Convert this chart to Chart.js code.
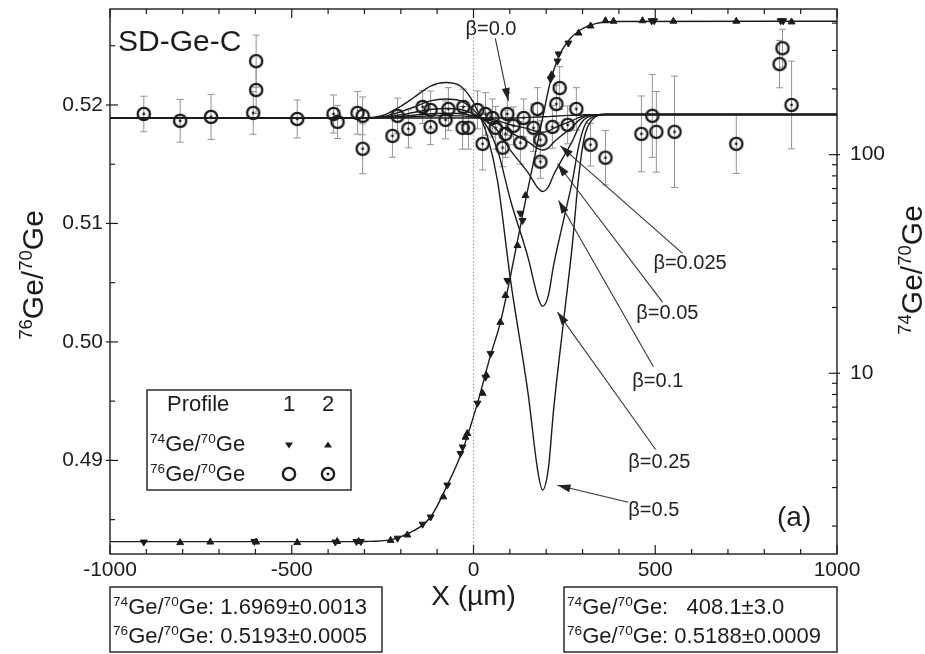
<!DOCTYPE html>
<html><head><meta charset="utf-8">
<script src="https://cdn.jsdelivr.net/npm/chart.js@4.4.0/dist/chart.umd.min.js"></script>
<style>html,body{margin:0;padding:0;background:#fff;}</style>
</head><body>
<canvas id="c" width="925" height="654" style="width:925px;height:654px;display:block"></canvas>
<script>
// ---------------- DATA ----------------
// model curves for 76Ge/70Ge (left axis), x in micrometres
const modelX = [-1000,-300,-250,-200,-165,-118,-77,-36,-8,11,38,66,102,151,176,190,206,220,248,272,289,305,327,363,1000];
const beta0   = [.5189,.5189,.5189,.5189,.5189,.5189,.5189,.5189,.5189,.5189,.5189,.5189,.5189,.51895,.51898,.5190,.51902,.51905,.5191,.51913,.51915,.51917,.51918,.5192,.5192];
const beta0025= [.5189,.5189,.51891,.51897,.51901,.51908,.5191,.51908,.51901,.51894,.51884,.51868,.51833,.51798,.51775,.5177,.51779,.51802,.51839,.51868,.51893,.51909,.51916,.5192,.5192];
const beta005 = [.5189,.5189,.51893,.51903,.51913,.51926,.5193,.51926,.51913,.51898,.51877,.51843,.51768,.51686,.51634,.5162,.51638,.51684,.51756,.51816,.51868,.519,.51914,.5192,.5192];
const beta01  = [.5189,.5189,.51896,.51916,.51936,.51962,.5197,.51962,.51936,.51906,.5186,.51784,.51616,.51425,.51304,.5127,.51308,.51407,.51564,.51695,.51809,.51879,.5191,.5192,.5192];
const beta025 = [.5189,.5189,.51901,.51943,.51981,.52034,.5205,.52034,.51981,.51922,.51813,.51621,.51194,.50701,.50389,.5030,.50393,.50641,.51032,.51359,.51646,.51821,.51897,.5192,.5192];
const beta05  = [.5189,.5189,.51911,.51989,.52061,.5216,.5219,.5216,.52061,.5195,.51739,.51361,.5052,.49545,.48928,.4875,.48932,.49416,.50181,.50823,.51386,.51728,.51877,.5192,.5192];

// model curve for 74Ge/70Ge (right axis, log)
const ge74X = [-1000,-350,-300,-228,-182,-118,-72,-30,11,47,74,102,143,184,212,234,261,294,336,391,1000];
const ge74Y = [1.697,1.697,1.70,1.73,1.84,2.2,3.08,4.45,7.3,12.1,17.1,28,61.7,131,218,280,332,372,398,407,408.1];

// 74Ge/70Ge measurements: profile 1 (down triangles), profile 2 (up triangles)
const t1X = [-907,-603,-380,-322,-310,-209,-140,-118,-72,-36,-30,11,33,47,93,129,135,212,231,234,261,490,497,845,852];
const t1Y = [1.69,1.70,1.69,1.70,1.70,1.76,2.04,2.2,3.08,4.3,4.6,7.3,9.6,12.3,26.6,54,50,222,268,289,324,410,410,410,410];
const t2X = [-807,-724,-598,-485,-375,-316,-228,-182,-83,-22,-17,25,35,74,88,121,143,215,289,322,363,385,465,550,723,875];
const t2Y = [1.68,1.69,1.69,1.68,1.70,1.70,1.72,1.82,2.72,5.1,5.3,8.1,9.8,17.1,22.7,38.4,65,232,360,388,410,408,410,408,408,405];

// 76Ge/70Ge measurements with errors: profile 1 (open circles), profile 2 (dotted circles)
const c1X = [-598,-598,-374,-319,-305,-118,-30,11,176,237,492,503,850,842];
const c1Y = [.5237,.52126,.51857,.51933,.51908,.51958,.51807,.51958,.51966,.52143,.51908,.51773,.52479,.52345];
const c1E = [.0022,.0020,.0014,.0018,.0016,.0016,.0018,.0016,.0018,.0018,.0035,.0034,.0016,.0020];
const c2X = [-907,-807,-722,-606,-485,-385,-305,-223,-209,-179,-140,-118,-77,-69,-28,-14,25,33,52,61,80,88,93,110,129,138,165,184,184,217,228,259,283,322,363,462,553,723,875];
const c2Y = [.51924,.51866,.51899,.51933,.51882,.51924,.5163,.51739,.51908,.51798,.51983,.51815,.51874,.51966,.51983,.51807,.51672,.51924,.5189,.51807,.51639,.51756,.51924,.51824,.51681,.5189,.51807,.51706,.51521,.51815,.52008,.51832,.51966,.51664,.51555,.51756,.51773,.51672,.52];
const c2E = [.0015,.0018,.0019,.0018,.0016,.0016,.0021,.0018,.0015,.0016,.0014,.0015,.0016,.0018,.0015,.0018,.0022,.0018,.0016,.0018,.0016,.0020,.0018,.0016,.0018,.0016,.0020,.0016,.0014,.0018,.0016,.0016,.0018,.0018,.0023,.0032,.0047,.0025,.0037];

// ticks
const xMajor = [-1000,-500,0,500,1000];
const xMinor = [-900,-800,-700,-600,-400,-300,-200,-100,100,200,300,400,600,700,800,900];
const yLMajor = [0.49,0.50,0.51,0.52];
const yLMinor = [0.485,0.495,0.505,0.515,0.525];
const yRMajor = [10,100];
const yRMinor = [2,3,4,5,6,7,8,9,20,30,40,50,60,70,80,90,200,300,400];

// ---------------- STYLE ----------------
const FONT = '"Liberation Sans", Arial, Helvetica, sans-serif';
const INK = '#1c1c1c';
const iso74 = [{t:'74',s:1},{t:'Ge/'},{t:'70',s:1},{t:'Ge'}];
const iso76 = [{t:'76',s:1},{t:'Ge/'},{t:'70',s:1},{t:'Ge'}];

function ringImg(dot){
  const c=document.createElement('canvas'); c.width=c.height=20;
  const g=c.getContext('2d'); g.strokeStyle=INK; g.lineWidth=2.4;
  g.beginPath(); g.arc(10,10,6.1,0,Math.PI*2); g.stroke();
  if(dot){ g.fillStyle=INK; g.beginPath(); g.arc(10,10,1.4,0,Math.PI*2); g.fill(); }
  return c;
}
const ringOpen = ringImg(false), ringDot = ringImg(true);

function richWidth(ctx, segs, size){
  let w=0; segs.forEach(s=>{ ctx.font=(s.s?size*0.62:size)+'px '+FONT; w+=ctx.measureText(s.t).width; }); return w;
}
function drawRich(ctx, segs, x, y, size, align){
  const w=richWidth(ctx,segs,size);
  let cx = align==='center'? x-w/2 : (align==='right'? x-w : x);
  ctx.textAlign='left'; ctx.textBaseline='alphabetic';
  segs.forEach(s=>{ const fs=s.s?size*0.62:size; ctx.font=fs+'px '+FONT;
    ctx.fillText(s.t, cx, s.s? y-size*0.36 : y); cx+=ctx.measureText(s.t).width; });
  return cx;
}
function seg(ctx,x1,y1,x2,y2){ ctx.beginPath(); ctx.moveTo(x1,y1); ctx.lineTo(x2,y2); ctx.stroke(); }
function arrow(ctx,x1,y1,x2,y2){
  seg(ctx,x1,y1,x2,y2);
  const a=Math.atan2(y2-y1,x2-x1), L=13, W=4;
  ctx.beginPath(); ctx.moveTo(x2,y2);
  ctx.lineTo(x2-L*Math.cos(a)+W*Math.sin(a), y2-L*Math.sin(a)-W*Math.cos(a));
  ctx.lineTo(x2-L*Math.cos(a)-W*Math.sin(a), y2-L*Math.sin(a)+W*Math.cos(a));
  ctx.closePath(); ctx.fill();
}
function tri(ctx,x,y,r,down){
  ctx.beginPath();
  if(down){ ctx.moveTo(x-r,y-r*0.6); ctx.lineTo(x+r,y-r*0.6); ctx.lineTo(x,y+r*0.9); }
  else { ctx.moveTo(x-r,y+r*0.6); ctx.lineTo(x+r,y+r*0.6); ctx.lineTo(x,y-r*0.9); }
  ctx.closePath(); ctx.fill();
}

// annotation labels, placed in data coordinates (x in um, y on left axis)
const betaNotes = [
  {t:'β=0.0',  lx:-22, ly:0.52588, x0:60,  y0:0.52563, x1:96,  y1:0.52034},
  {t:'β=0.025',lx:495, ly:0.50613, x0:575, y0:0.50748, x1:239, y1:0.51655},
  {t:'β=0.05', lx:448, ly:0.50193, x0:520, y0:0.50336, x1:231, y1:0.51504},
  {t:'β=0.1',  lx:437, ly:0.49622, x0:495, y0:0.49790, x1:234, y1:0.51193},
  {t:'β=0.25', lx:426, ly:0.48933, x0:501, y0:0.49092, x1:231, y1:0.50252},
  {t:'β=0.5',  lx:426, ly:0.48529, x0:426, y0:0.48647, x1:231, y1:0.48790}
];

// ---------------- DATASETS ----------------
const pts = (xs,ys)=>xs.map((x,i)=>({x, y:ys[i]}));
const curve = (ys,label)=>({label, data:pts(modelX,ys), yAxisID:'yL', showLine:true, borderColor:INK, borderWidth:1.4,
  pointRadius:0, cubicInterpolationMode:'monotone', fill:false, order:3});

const datasets = [
  curve(beta0,'β=0.0'), curve(beta0025,'β=0.025'), curve(beta005,'β=0.05'),
  curve(beta01,'β=0.1'), curve(beta025,'β=0.25'), curve(beta05,'β=0.5'),
  {label:'74 model', data:pts(ge74X,ge74Y), yAxisID:'yR', showLine:true, borderColor:INK, borderWidth:1.4,
   pointRadius:0, cubicInterpolationMode:'monotone', order:3},
  {label:'74 p1', data:pts(t1X,t1Y), yAxisID:'yR', pointStyle:'triangle', pointRotation:180, pointRadius:4,
   backgroundColor:INK, borderColor:INK, borderWidth:1, order:1},
  {label:'74 p2', data:pts(t2X,t2Y), yAxisID:'yR', pointStyle:'triangle', pointRadius:4,
   backgroundColor:INK, borderColor:INK, borderWidth:1, order:1},
  {label:'76 p1', data:pts(c1X,c1Y), yAxisID:'yL', pointStyle:ringOpen, pointRadius:8, order:2},
  {label:'76 p2', data:pts(c2X,c2Y), yAxisID:'yL', pointStyle:ringDot, pointRadius:8, order:2}
];

// ---------------- PLUGINS ----------------
const under = {
  id:'under',
  beforeDatasetsDraw(chart){
    const ctx=chart.ctx, xs=chart.scales.x, ys=chart.scales.yL, ca=chart.chartArea;
    ctx.save();
    ctx.beginPath(); ctx.rect(ca.left,ca.top,ca.right-ca.left,ca.bottom-ca.top); ctx.clip();
    ctx.strokeStyle='#9a9a9a'; ctx.lineWidth=1; ctx.setLineDash([1.5,2]);
    const z=xs.getPixelForValue(0); seg(ctx,z,ca.top,z,ca.bottom);
    ctx.setLineDash([]);
    ctx.strokeStyle='#939393'; ctx.lineWidth=1;
    [[c1X,c1Y,c1E],[c2X,c2Y,c2E]].forEach(([X,Y,E])=>{
      X.forEach((x,i)=>{
        const px=xs.getPixelForValue(x), a=ys.getPixelForValue(Y[i]+E[i]), b=ys.getPixelForValue(Y[i]-E[i]);
        seg(ctx,px,a,px,b); seg(ctx,px-3.5,a,px+3.5,a); seg(ctx,px-3.5,b,px+3.5,b);
      });
    });
    ctx.restore();
  }
};

const over = {
  id:'over',
  afterDatasetsDraw(chart){
    const ctx=chart.ctx, xs=chart.scales.x, yl=chart.scales.yL, yr=chart.scales.yR, ca=chart.chartArea;
    ctx.save();
    ctx.strokeStyle=INK; ctx.fillStyle=INK; ctx.lineWidth=1.4;
    ctx.strokeRect(ca.left,ca.top,ca.right-ca.left,ca.bottom-ca.top);
    ctx.lineWidth=1.2;
    xMajor.forEach(v=>{const p=xs.getPixelForValue(v); seg(ctx,p,ca.bottom,p,ca.bottom-9); seg(ctx,p,ca.top,p,ca.top+9);});
    xMinor.forEach(v=>{const p=xs.getPixelForValue(v); seg(ctx,p,ca.bottom,p,ca.bottom-5); seg(ctx,p,ca.top,p,ca.top+5);});
    yLMajor.forEach(v=>{const p=yl.getPixelForValue(v); seg(ctx,ca.left-4,p,ca.left+8,p);});
    yLMinor.forEach(v=>{const p=yl.getPixelForValue(v); seg(ctx,ca.left,p,ca.left+5,p);});
    yRMajor.forEach(v=>{const p=yr.getPixelForValue(v); seg(ctx,ca.right-8,p,ca.right+3,p);});
    yRMinor.forEach(v=>{const p=yr.getPixelForValue(v); seg(ctx,ca.right-5,p,ca.right,p);});

    ctx.lineWidth=1.1; ctx.strokeStyle='#333'; ctx.fillStyle='#222';
    betaNotes.forEach(n=>{
      arrow(ctx, xs.getPixelForValue(n.x0), yl.getPixelForValue(n.y0), xs.getPixelForValue(n.x1), yl.getPixelForValue(n.y1));
      ctx.font='20px '+FONT; ctx.textAlign='left'; ctx.textBaseline='alphabetic';
      ctx.fillText(n.t, xs.getPixelForValue(n.lx), yl.getPixelForValue(n.ly));
    });

    ctx.fillStyle=INK; ctx.strokeStyle=INK;
    ctx.font='30px '+FONT; ctx.textAlign='left'; ctx.fillText('SD-Ge-C', ca.left+8, ca.top+42);
    ctx.font='28px '+FONT; ctx.fillText('(a)', ca.left+667, ca.bottom-28);

    const Lx=ca.left+37, Ly=ca.top+381, Lw=204, Lh=100;
    ctx.lineWidth=1.4; ctx.strokeRect(Lx,Ly,Lw,Lh);
    ctx.font='22px '+FONT; ctx.textAlign='left'; ctx.fillText('Profile', Lx+20, Ly+21);
    ctx.textAlign='center'; ctx.fillText('1', Lx+142, Ly+21); ctx.fillText('2', Lx+181, Ly+21);
    drawRich(ctx, iso74, Lx+3, Ly+61, 22, 'left');
    drawRich(ctx, iso76, Lx+3, Ly+91, 22, 'left');
    tri(ctx, Lx+142, Ly+55, 4, true); tri(ctx, Lx+181, Ly+55, 4, false);
    ctx.drawImage(ringOpen, Lx+142-10, Ly+84-10); ctx.drawImage(ringDot, Lx+181-10, Ly+84-10);

    ctx.lineWidth=1.4;
    const by=ca.bottom+33, bh=65;
    ctx.strokeRect(ca.left, by, 272, bh);
    ctx.strokeRect(ca.right-273, by, 273, bh);
    const w1=drawRich(ctx, iso74, ca.left+3, by+27, 22, 'left');
    ctx.font='22px '+FONT; ctx.textAlign='left'; ctx.fillText(': 1.6969±0.0013', w1, by+27);
    const w2=drawRich(ctx, iso76, ca.left+3, by+56, 22, 'left');
    ctx.font='22px '+FONT; ctx.fillText(': 0.5193±0.0005', w2, by+56);
    const w3=drawRich(ctx, iso74, ca.right-270, by+27, 22, 'left');
    ctx.font='22px '+FONT; ctx.fillText(':   408.1±3.0', w3, by+27);
    const w4=drawRich(ctx, iso76, ca.right-270, by+56, 22, 'left');
    ctx.font='22px '+FONT; ctx.fillText(': 0.5188±0.0009', w4, by+56);

    ctx.font='28px '+FONT; ctx.textAlign='center';
    ctx.fillText('X (µm)', (ca.left+ca.right)/2, ca.bottom+51);
    ctx.save(); ctx.translate(43, 275); ctx.rotate(-Math.PI/2); drawRich(ctx, iso76, 0, 0, 30, 'center'); ctx.restore();
    ctx.save(); ctx.translate(922, 270); ctx.rotate(-Math.PI/2); drawRich(ctx, iso74, 0, 0, 30, 'center'); ctx.restore();
    ctx.restore();
  }
};

function noPad(s){ s.paddingTop=0; s.paddingBottom=0; s.paddingLeft=0; s.paddingRight=0; }

// ---------------- CHART ----------------
new Chart(document.getElementById('c'), {
  type:'scatter',
  data:{datasets},
  options:{
    responsive:false, animation:false, devicePixelRatio:1,
    layout:{padding:{top:8,left:0,right:0,bottom:0}},
    plugins:{legend:{display:false}, tooltip:{enabled:false}},
    scales:{
      x:{type:'linear', position:'bottom', min:-1000, max:1000,
         grid:{display:false, drawTicks:false}, border:{display:false},
         afterBuildTicks:s=>{s.ticks=xMajor.map(v=>({value:v}));},
         afterFit:s=>{s.height=100; noPad(s);},
         ticks:{font:{family:FONT,size:21}, color:INK, padding:4, maxRotation:0, autoSkip:false, callback:v=>String(v)}},
      yL:{type:'linear', position:'left', min:0.4821, max:0.5281,
         grid:{display:false, drawTicks:false}, border:{display:false},
         afterBuildTicks:s=>{s.ticks=yLMajor.map(v=>({value:v}));},
         afterFit:s=>{s.width=110; noPad(s);},
         ticks:{font:{family:FONT,size:21}, color:INK, padding:7, autoSkip:false, callback:v=>Number(v).toFixed(2)}},
      yR:{type:'logarithmic', position:'right', min:1.49, max:464,
         grid:{display:false, drawTicks:false}, border:{display:false},
         afterBuildTicks:s=>{s.ticks=yRMajor.map(v=>({value:v}));},
         afterFit:s=>{s.width=88; noPad(s);},
         ticks:{font:{family:FONT,size:21}, color:INK, padding:13, autoSkip:false, callback:v=>String(v)}}
    }
  },
  plugins:[under, over]
});
</script>
</body></html>
